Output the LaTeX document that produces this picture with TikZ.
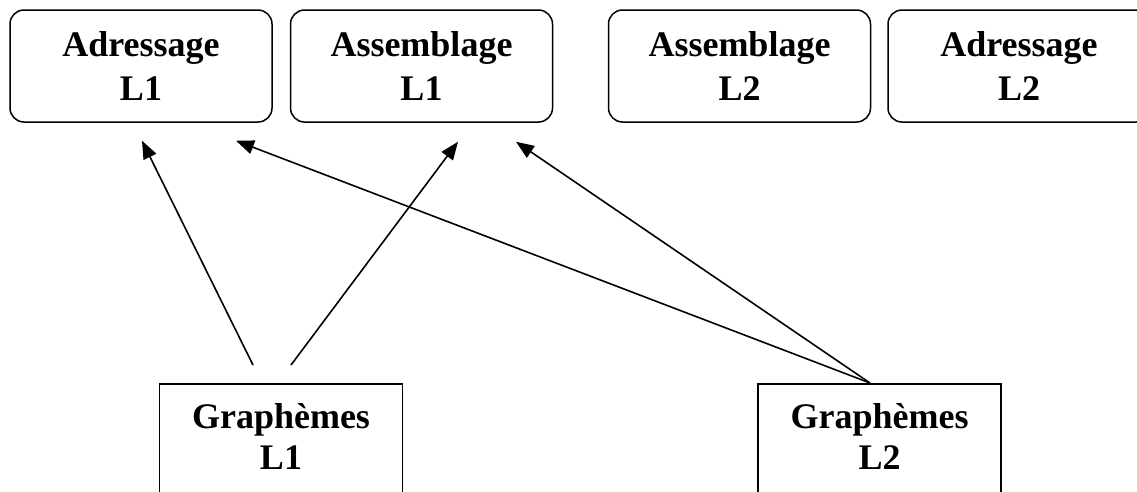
\documentclass[tikz,border=0pt]{standalone}
\usepackage{fontspec}
\setmainfont{Liberation Serif}
\usetikzlibrary{arrows.meta}
\begin{document}
\begin{tikzpicture}[x=1pt,y=-1pt,
  topbox/.style={draw, line width=1.5pt, rounded corners=14pt, minimum width=262pt, minimum height=112pt, inner sep=0pt, align=center, font=\fontsize{36}{44}\selectfont\bfseries},
  botbox/.style={draw, line width=1.5pt, minimum width=243pt, minimum height=140pt, inner sep=0pt, anchor=north},
  bottxt/.style={inner sep=0pt, align=center, font=\fontsize{36}{41}\selectfont\bfseries},
  link/.style={line width=1.6pt, -{Triangle[length=18pt,width=14pt]}}]
\useasboundingbox (0,0) rectangle (1137,491);
\clip (0,0) rectangle (1137,491);
\node[topbox] (a1) at (141,66) {Adressage\\L1};
\node[topbox] (s1) at (421.5,66) {Assemblage\\L1};
\node[topbox] (s2) at (739.5,66) {Assemblage\\L2};
\node[topbox] (a2) at (1019,66) {Adressage\\L2};
\node[botbox] (g1) at (281,383) {};
\node[botbox] (g2) at (879.5,383) {};
\node[bottxt] (t1) at (281,436.5) {Graphèmes\\L1};
\node[bottxt] (t2) at (879.5,436.5) {Graphèmes\\L2};
\coordinate (g1l) at ([xshift=-28pt,yshift=18pt]g1.north);
\coordinate (g1r) at ([xshift=10pt,yshift=18pt]g1.north);
\coordinate (g2t) at ([xshift=-9.5pt]g2.north);
\coordinate (ta1) at ([xshift=1pt,yshift=-18pt]a1.south);
\coordinate (ta1b) at ([xshift=95pt,yshift=-18pt]a1.south);
\coordinate (ts1) at ([xshift=36.5pt,yshift=-19pt]s1.south);
\coordinate (ts1b) at ([xshift=94.5pt,yshift=-19pt]s1.south);
\draw[link] (g1l) -- (ta1);
\draw[link] (g1r) -- (ts1);
\draw[link] (g2t) -- (ta1b);
\draw[link] (g2t) -- (ts1b);
\end{tikzpicture}
\end{document}
